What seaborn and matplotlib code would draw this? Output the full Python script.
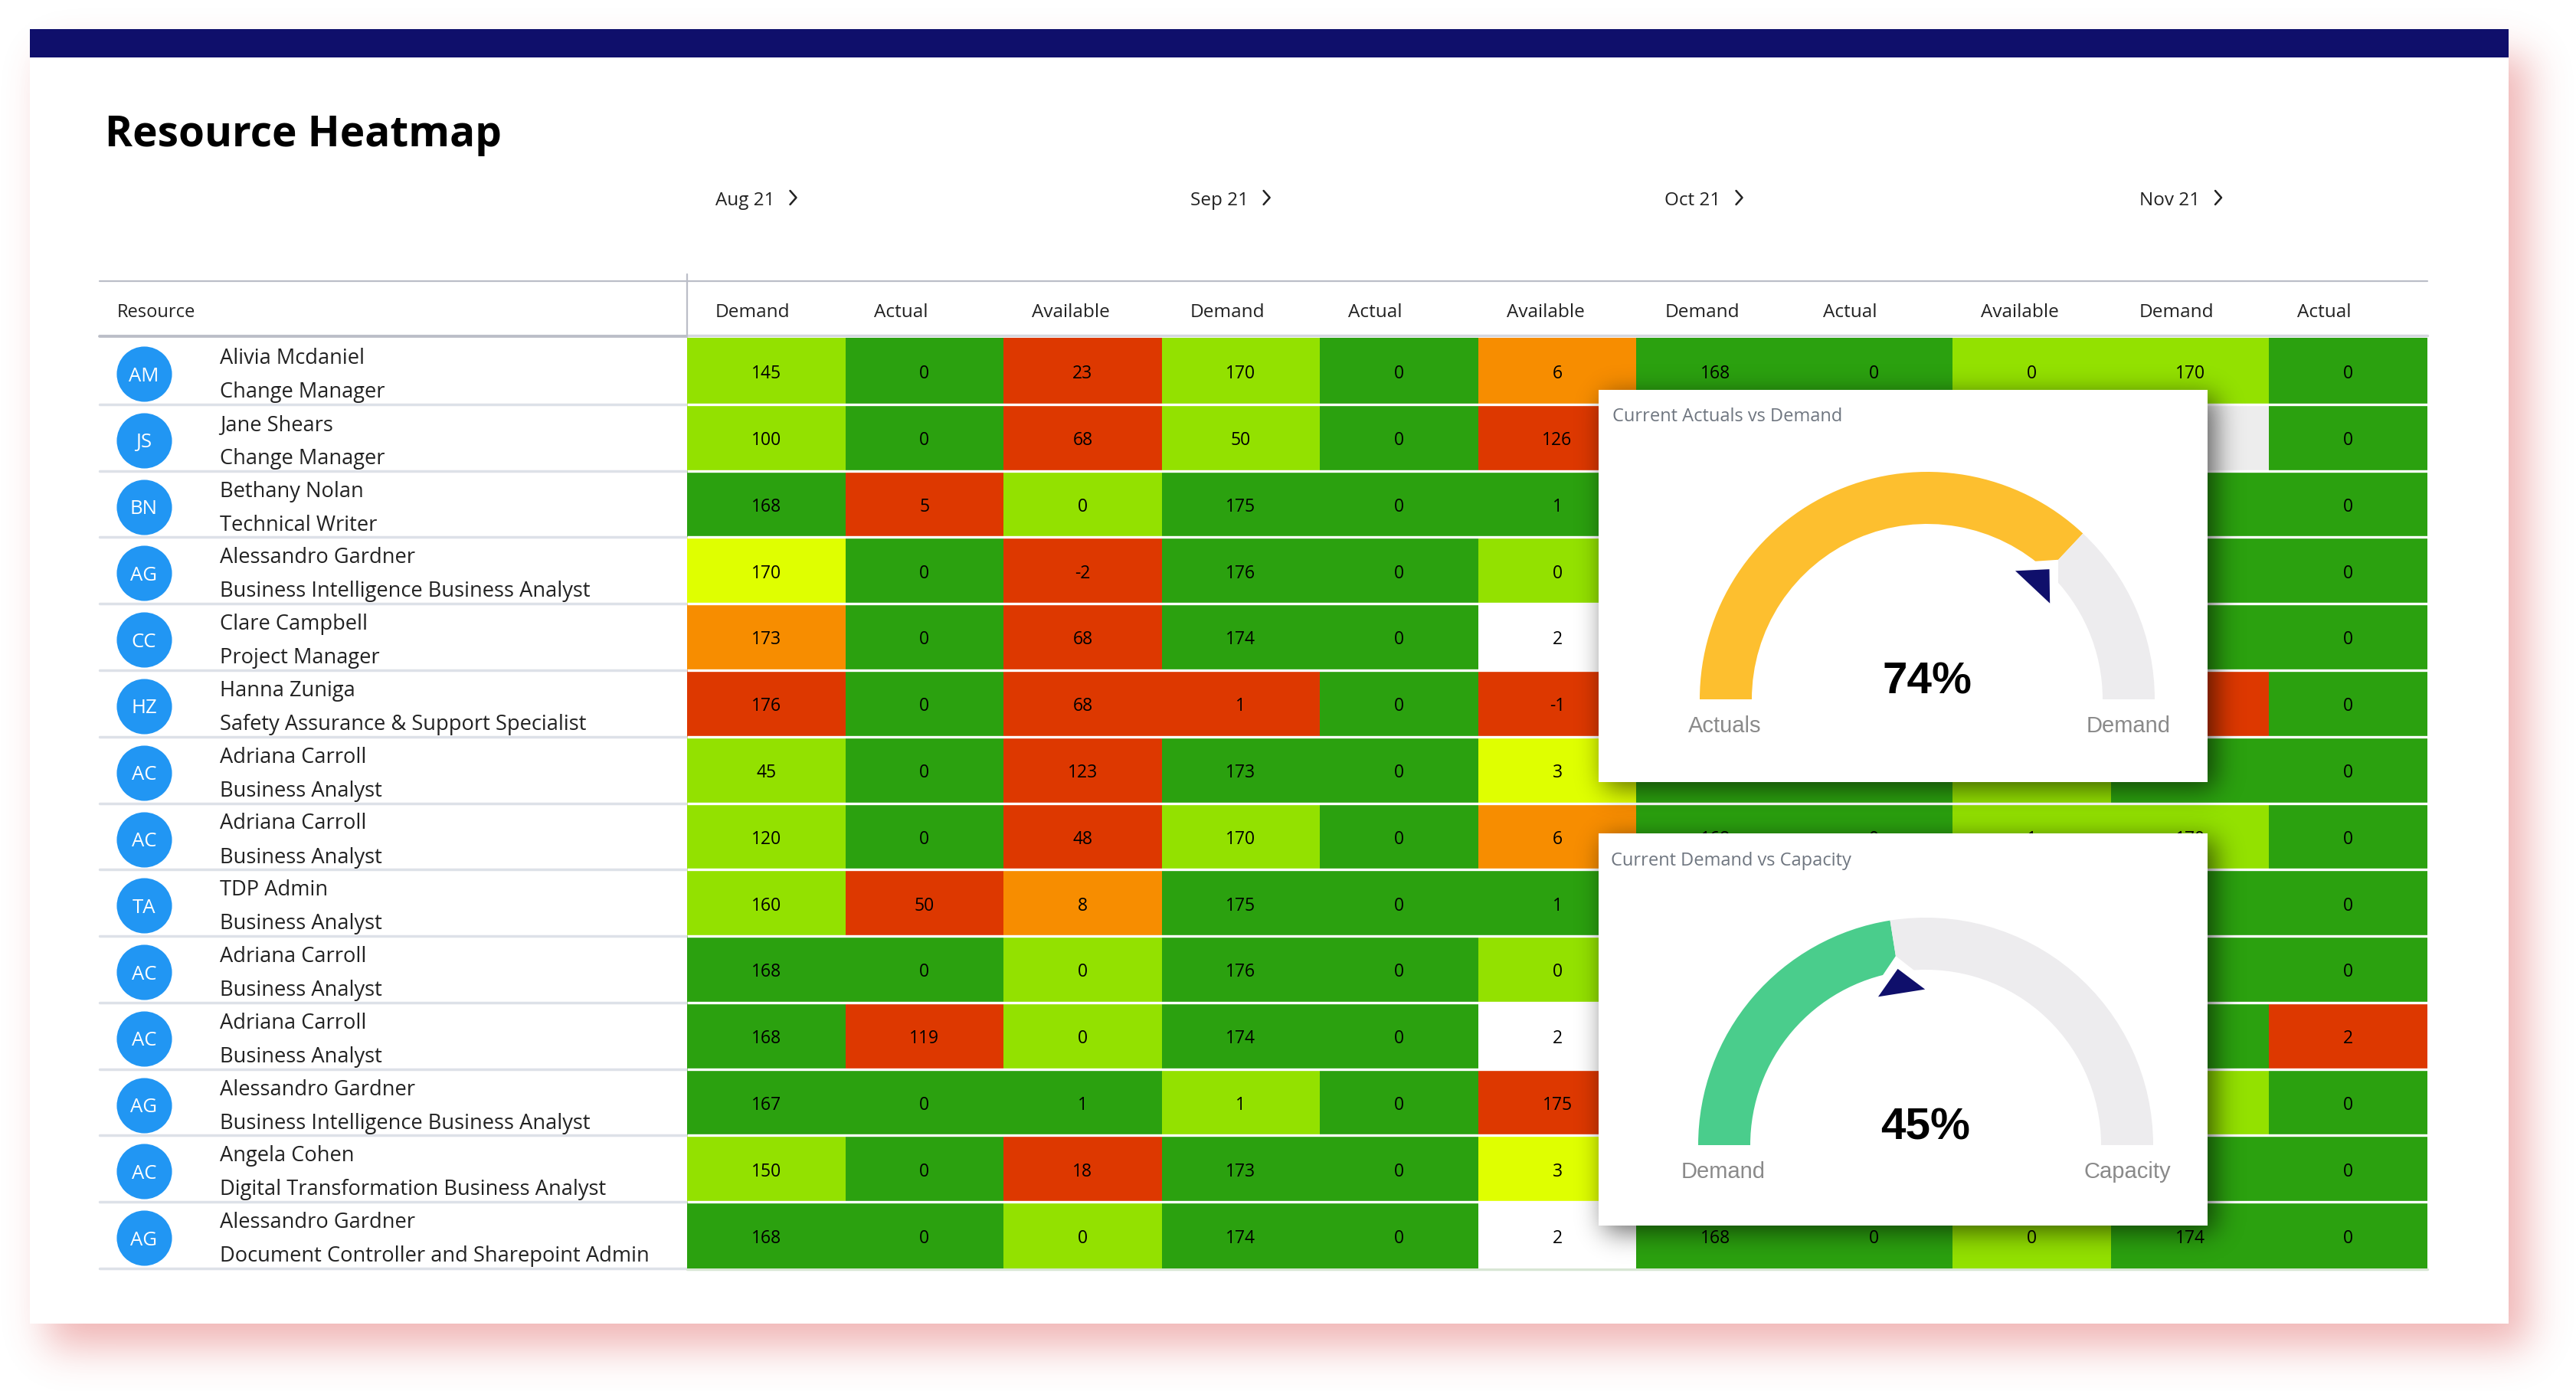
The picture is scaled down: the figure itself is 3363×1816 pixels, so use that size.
import math
import numpy as np
import pandas as pd
import matplotlib
matplotlib.use('Agg')
import matplotlib.pyplot as plt
from matplotlib.colors import ListedColormap
from matplotlib.patches import Rectangle
import seaborn as sns

# table text
months = ['Aug 21', 'Sep 21', 'Oct 21', 'Nov 21']
col_labels = ['Demand', 'Actual', 'Available', 'Demand', 'Actual', 'Available',
              'Demand', 'Actual', 'Available', 'Demand', 'Actual']
initials = ['AM', 'JS', 'BN', 'AG', 'CC', 'HZ', 'AC', 'AC', 'TA', 'AC', 'AC', 'AG', 'AC', 'AG']
names = ['Alivia Mcdaniel', 'Jane Shears', 'Bethany Nolan', 'Alessandro Gardner',
         'Clare Campbell', 'Hanna Zuniga', 'Adriana Carroll', 'Adriana Carroll',
         'TDP Admin', 'Adriana Carroll', 'Adriana Carroll', 'Alessandro Gardner',
         'Angela Cohen', 'Alessandro Gardner']
roles = ['Change Manager', 'Change Manager', 'Technical Writer',
         'Business Intelligence Business Analyst', 'Project Manager',
         'Safety Assurance & Support Specialist', 'Business Analyst', 'Business Analyst',
         'Business Analyst', 'Business Analyst', 'Business Analyst',
         'Business Intelligence Business Analyst', 'Digital Transformation Business Analyst',
         'Document Controller and Sharepoint Admin']

# cell values by column, None where a card hides the number
aug_demand = [145, 100, 168, 170, 173, 176, 45, 120, 160, 168, 168, 167, 150, 168]
aug_actual = [0, 0, 5, 0, 0, 0, 0, 0, 50, 0, 119, 0, 0, 0]
aug_avail = [23, 68, 0, -2, 68, 68, 123, 48, 8, 0, 0, 1, 18, 0]
sep_demand = [170, 50, 175, 176, 174, 1, 173, 170, 175, 176, 174, 1, 173, 174]
sep_actual = [0, 0, 0, 0, 0, 0, 0, 0, 0, 0, 0, 0, 0, 0]
sep_avail = [6, 126, 1, 0, 2, -1, 3, 6, 1, 0, 2, 175, 3, 2]
oct_demand = [168, None, None, None, None, None, None, 168, None, None, None, None, None, 168]
oct_actual = [0, None, None, None, None, None, None, 0, None, None, None, None, None, 0]
oct_avail = [0, None, None, None, None, None, None, 1, None, None, None, None, None, 0]
nov_demand = [170, None, None, None, None, None, None, 170, None, None, None, None, None, 174]
nov_actual = [0, 0, 0, 0, 0, 0, 0, 0, 0, 0, 2, 0, 0, 0]

# cell status by column: D dark green, L light green, Y yellow, O orange, R red, W white, G grey
status_cols = ['LLDYORLLLDDDLD', 'DDRDDDDDRDRDDD', 'RRLRRRRROLLDRL',
               'LLDDDRDLDDDLDD', 'DDDDDDDDDDDDDD', 'ORDLWRYODLWRYW',
               'DDDDDDDDDDDDDD', 'DDDDDDDDDDDDDD', 'LLLLLLLLLLLLLL',
               'LGDDDRDLDDDLDD', 'DDDDDDDDDDRDDD']
status_order = 'DLYORWG'
status_colors = ['#2BA10F', '#93E100', '#DFFF00', '#F78D00', '#DD3800', '#FFFFFF', '#EDEDED']

# gauges
gauge_pcts = [74, 45]
gauge_titles = ['Current Actuals vs Demand', 'Current Demand vs Capacity']
gauge_left = ['Actuals', 'Demand']
gauge_right = ['Demand', 'Capacity']
gauge_colors = ['#FDBF2F', '#4ACD8C']

W, H = 3363, 1816
sns.set_theme(style='white')
plt.rcParams['font.family'] = ['Open Sans', 'DejaVu Sans']
NAVY = '#0F0F6B'
INK = '#222222'

fig = plt.figure(figsize=(W / 100, H / 100), dpi=100, facecolor='white')


def px_axes(x0, y0, x1, y1, z):
    ax = fig.add_axes([x0 / W, 1 - y1 / H, (x1 - x0) / W, (y1 - y0) / H], zorder=z)
    ax.patch.set_visible(False)
    return ax


def box_shadow(ax, x0, y0, x1, y1, sigma, rgb, alpha):
    erf = np.vectorize(math.erf)
    xs = np.arange(W) + 0.5
    ys = np.arange(H) + 0.5
    fx = 0.5 * (erf((xs - x0) / (sigma * 1.414)) - erf((xs - x1) / (sigma * 1.414)))
    fy = 0.5 * (erf((ys - y0) / (sigma * 1.414)) - erf((ys - y1) / (sigma * 1.414)))
    img = np.zeros((H, W, 4))
    img[..., :3] = rgb
    img[..., 3] = np.outer(fy, fx) * alpha
    ax.imshow(img, extent=(0, W, H, 0), aspect='auto', interpolation='nearest')
    ax.set_xlim(0, W)
    ax.set_ylim(H, 0)


# page layer
page = px_axes(0, 0, W, H, 0)
box_shadow(page, 62, 72, 3300, 1758, 26, (0.86, 0.30, 0.30), 0.42)
page.add_patch(Rectangle((39, 38), 3236, 1690, fc='white', ec='none'))
page.add_patch(Rectangle((39, 38), 3236, 37, fc=NAVY, ec='none'))
page.axis('off')

page.text(137, 177, 'Resource Heatmap', fontsize=39.5, fontweight='bold', color='black',
          va='center', ha='left')

table_left, table_x, table_right = 130, 897, 3169
table_top, table_bottom = 441, 1656
col_w = (table_right - table_x) / len(col_labels)
row_h = (table_bottom - table_top) / len(names)

# header
page.plot([table_left, table_right], [367, 367], color='#BBBEC8', lw=1.6)
page.plot([table_left, table_x], [439, 439], color='#BBBEC8', lw=2.8)
page.plot([table_x, table_right], [438, 438], color='#D5D7DE', lw=2.5)
page.plot([table_x, table_x], [358, 439], color='#BBBEC8', lw=1.6)
page.text(153, 408, 'Resource', fontsize=17, color=INK, va='center')
for i, label in enumerate(col_labels):
    page.text(table_x + i * col_w + 37, 408, label, fontsize=17.6, color=INK, va='center')

renderer = fig.canvas.get_renderer()
for i, month in enumerate(months):
    mx = table_x + 3 * i * col_w + 37
    month_text = page.text(mx, 262, month, fontsize=17.5, color=INK, va='center')
    end = month_text.get_window_extent(renderer).x1
    page.plot([end + 20, end + 28, end + 20], [249, 258, 267], color=INK, lw=1.8)

# resource rows
for i in range(len(names)):
    top = table_top + i * row_h
    page.scatter([188], [top + 47], s=72 ** 2 * 0.52, color='#2196F3', linewidths=0, zorder=3)
    page.text(188, top + 50, initials[i], color='white', fontsize=18.5, ha='center',
              va='center', zorder=4)
    page.text(287, top + 27, names[i], fontsize=19.6, color=INK, va='center')
    page.text(287, top + 71, roles[i], fontsize=19.6, color=INK, va='center')
    page.plot([table_left, table_x], [top + row_h, top + row_h], color='#DDE1E8', lw=2.5)
page.plot([table_x, table_right], [table_bottom + 1, table_bottom + 1], color='#D8E6D4', lw=2.5)
page.set_xlim(0, W)
page.set_ylim(H, 0)

# heatmap
values = pd.DataFrame(dict(enumerate([aug_demand, aug_actual, aug_avail, sep_demand, sep_actual,
                                      sep_avail, oct_demand, oct_actual, oct_avail,
                                      nov_demand, nov_actual])))
labels = values.map(lambda v: '' if pd.isna(v) else str(int(v))).values
codes = np.array([[status_order.index(c) for c in col] for col in status_cols]).T

hm_ax = px_axes(table_x, table_top, table_right, table_bottom, 1)
sns.heatmap(codes, cmap=ListedColormap(status_colors), vmin=-0.5, vmax=6.5, annot=labels, fmt='',
            annot_kws={'fontsize': 16.5, 'color': 'black'}, cbar=False,
            xticklabels=False, yticklabels=False, ax=hm_ax)
hm_ax.hlines(range(1, len(names)), 0, len(col_labels), color='white', lw=2.4)
hm_ax.tick_params(left=False, bottom=False)
for t in hm_ax.texts:
    t.set_y(t.get_position()[1] + 0.045)

# cards above the heatmap
cards = [(2087, 509, 2882, 1021), (2087, 1088, 2882, 1600)]
gauge_centers = [(2516, 913), (2514, 1495)]
radius = 297
ring = 68

overlay = px_axes(0, 0, W, H, 2)
overlay.axis('off')
for (x0, y0, x1, y1) in cards:
    box_shadow(overlay, x0 + 8, y0 + 8, x1 + 10, y1 + 8, 17, (0, 0, 0), 0.6)
for k, (x0, y0, x1, y1) in enumerate(cards):
    overlay.add_patch(Rectangle((x0, y0), x1 - x0, y1 - y0, fc='white', ec='none'))
    cx, cy = gauge_centers[k]
    overlay.text(x0 + 18 - k * 2, y0 + 35 + k, gauge_titles[k], fontsize=17, color='#6F7680', va='center')
    overlay.text(cx, cy - 23, f'{gauge_pcts[k]}%', fontsize=42, fontweight='bold', color='black',
                 family=['Liberation Sans'], ha='center', va='center')
    overlay.text(cx - 264, cy + 35, gauge_left[k], fontsize=21, color='#8A8A8A',
                 family=['Liberation Sans'], ha='center', va='center')
    overlay.text(cx + 263, cy + 35, gauge_right[k], fontsize=21, color='#8A8A8A',
                 family=['Liberation Sans'], ha='center', va='center')
overlay.set_xlim(0, W)
overlay.set_ylim(H, 0)


def wedge_triangle(ax, angle, r_tip, r_base, half_w, color):
    a = np.radians(angle)
    ux, uy = np.cos(a), np.sin(a)
    ax.fill([r_tip * ux, r_base * ux - half_w * uy, r_base * ux + half_w * uy],
            [r_tip * uy, r_base * uy + half_w * ux, r_base * uy - half_w * ux],
            color=color, lw=0, zorder=5)


for k, pct in enumerate(gauge_pcts):
    cx, cy = gauge_centers[k]
    g_ax = px_axes(cx - radius, cy - radius, cx + radius, cy + radius, 3)
    wedges, _ = g_ax.pie([pct, 100 - pct, 100], startangle=180, counterclock=False, radius=1,
                         colors=[gauge_colors[k], '#EDECEE', 'white'],
                         wedgeprops={'width': ring / radius, 'linewidth': 0})
    wedges[2].set_visible(False)
    angle = 180 - pct * 1.8
    wedge_triangle(g_ax, angle, 250 / radius, 205 / radius, 42 / radius, 'white')
    wedge_triangle(g_ax, angle, 233 / radius, 201 / radius, 31 / radius, NAVY)
    g_ax.set_xlim(-1, 1)
    g_ax.set_ylim(-1, 1)

fig.savefig('out.png', dpi=100)
